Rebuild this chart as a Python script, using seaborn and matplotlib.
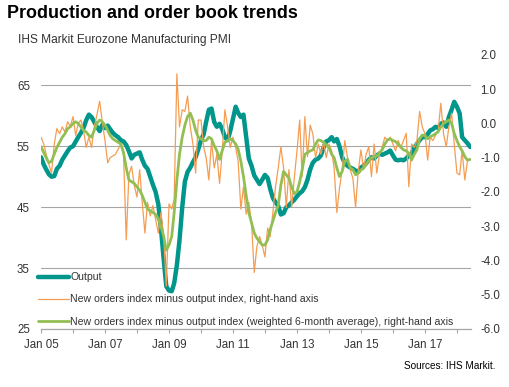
import pandas as pd
import seaborn as sns
import matplotlib.pyplot as plt
import matplotlib.dates as mdates
from matplotlib.ticker import FuncFormatter

# Eurozone manufacturing PMI, monthly Jan 2005 - Jun 2018
output = [
    53.2, 52.0, 51.2, 50.4, 50.0, 50.1, 51.3, 51.8, 52.8, 53.5, 54.2, 54.8,   # 2005
    55.0, 55.8, 56.5, 57.2, 58.0, 59.3, 60.2, 59.8, 59.0, 58.2, 57.5, 58.5,   # 2006
    58.0, 58.4, 57.8, 57.2, 56.8, 56.5, 56.0, 55.8, 55.2, 54.2, 53.0, 53.6,   # 2007
    53.8, 54.0, 52.8, 51.8, 51.3, 50.0, 48.7, 47.5, 45.5, 41.5, 36.5, 32.0,   # 2008
    31.3, 31.2, 32.5, 35.5, 39.6, 45.0, 49.2, 50.8, 51.5, 52.4, 53.2, 54.5,   # 2009
    56.0, 57.0, 59.0, 61.0, 61.2, 59.0, 58.2, 58.7, 57.8, 56.5, 56.0, 57.5,   # 2010
    59.5, 61.5, 60.5, 59.8, 60.2, 56.5, 53.0, 51.8, 50.2, 49.5, 48.8, 49.5,   # 2011
    50.3, 49.8, 48.0, 46.5, 45.8, 45.2, 43.8, 44.0, 45.0, 45.3, 45.8, 46.2,   # 2012
    46.8, 47.3, 47.6, 48.3, 49.5, 51.2, 52.3, 52.8, 53.0, 53.5, 54.8, 55.8,   # 2013
    56.0, 56.5, 55.8, 56.2, 55.0, 53.2, 52.2, 51.8, 51.5, 51.3, 51.0, 50.8,   # 2014
    51.5, 51.8, 52.2, 52.8, 53.2, 53.0, 53.5, 53.8, 53.6, 53.8, 54.0, 54.3,   # 2015
    53.5, 52.8, 52.7, 52.8, 52.7, 53.0, 53.5, 53.8, 54.8, 55.4, 56.0, 56.5,   # 2016
    56.5, 57.0, 57.6, 57.8, 58.2, 58.0, 58.7, 58.9, 58.2, 59.8, 61.0, 62.3,   # 2017
    61.5, 60.4, 56.5, 56.0, 55.5, 54.9,                                       # 2018
]

orders_minus_output = [
    -0.4, -0.6, -0.9, -1.2, -1.45, -0.6, -0.15, -0.3, -0.1, -0.25, 0.05, -0.1,
    0.2, -0.35, 0.0, 0.1, -0.2, -0.7, -0.4, -0.7, -0.1, 0.25, 0.65, 0.05,
    -0.5, -1.15, -1.0, -0.95, -0.9, -0.75, -0.6, -0.9, -3.4, -1.5, -1.25, -1.8,
    -2.15, -1.35, -2.3, -3.2, -2.3, -2.7, -2.4, -2.8, -3.2, -2.6, -3.3, -4.75,
    -2.35, -2.5, -2.2, 1.45, -0.1, 0.4, 0.35, 0.8, -0.1, -0.6, -1.45, 0.1,
    0.1, -0.7, -1.0, -1.65, -0.5, -1.3, -0.9, -1.75, -0.8, 0.4, -0.1, -0.7,
    -0.4, -0.7, -1.1, -2.5, -1.85, -2.65, -2.3, -2.9, -4.35, -3.6, -3.3, -3.55,
    -3.9, -3.05, -3.3, -2.6, -1.85, -1.3, -0.68, -1.3, -2.45, -1.35, -2.45, -1.6,
    -0.8, 0.1, -1.55, 0.2, -0.97, -0.05, -0.3, -1.0, -0.6, -0.9, -0.55, -1.0,
    -0.6, -0.8, -1.3, -2.6, -1.9, -1.35, -0.5, -1.0, -1.35, -1.6, -2.45, -1.4,
    -0.77, -1.35, -0.9, -0.68, -1.55, -0.6, -1.45, -0.9, -0.68, -0.4, -0.5, -0.4,
    -0.6, -0.8, -0.5, -0.7, -0.5, -0.29, -1.85, -0.6, -0.7, -0.5, 0.35, -0.1,
    -0.3, -1.07, -0.4, -0.5, -0.35, -0.2, 0.59, -0.3, -0.68, -0.1, 0.3, -0.6,
    -1.45, -1.5, -0.8, -1.65, -1.1, -1.05,
]

weighted_avg = [
    -0.68, -0.85, -1.0, -1.15, -1.1, -0.9, -0.7, -0.55, -0.4, -0.3, -0.15, -0.1,
    0.0, 0.05, 0.0, -0.1, -0.2, -0.25, -0.35, -0.4, -0.2, 0.0, 0.1, 0.05,
    -0.05, -0.2, -0.35, -0.45, -0.5, -0.55, -0.6, -0.85, -1.3, -1.65, -1.7, -1.75,
    -1.85, -1.95, -2.1, -2.3, -2.5, -2.55, -2.6, -2.65, -2.8, -3.0, -3.3, -3.7,
    -3.55, -3.3, -2.6, -1.65, -0.9, -0.4, -0.05, 0.2, 0.3, 0.1, -0.2, -0.4,
    -0.45, -0.5, -0.5, -0.4, -0.45, -0.65, -0.8, -1.05, -0.8, -0.55, -0.5, -0.45,
    -0.5, -0.6, -0.75, -1.1, -1.55, -2.1, -2.6, -2.9, -3.2, -3.35, -3.45, -3.55,
    -3.55, -3.4, -3.1, -2.85, -2.6, -2.4, -1.8, -1.4, -1.5, -1.6, -1.85, -2.05,
    -2.0, -1.7, -1.36, -0.9, -0.85, -0.8, -0.77, -0.6, -0.48, -0.5, -0.55, -0.63,
    -0.7, -0.9, -1.0, -1.3, -1.55, -1.4, -1.1, -1.05, -1.3, -1.35, -1.5, -1.45,
    -1.36, -1.3, -1.2, -1.07, -1.0, -0.97, -0.95, -0.85, -0.77, -0.6, -0.48, -0.45,
    -0.5, -0.53, -0.6, -0.7, -0.77, -0.8, -0.87, -1.07, -0.9, -0.77, -0.45, -0.34,
    -0.35, -0.45, -0.39, -0.35, -0.3, -0.24, -0.1, 0.0, 0.05, 0.1, 0.0, -0.29,
    -0.5, -0.68, -0.8, -0.97, -1.07, -1.05,
]

left_ticks = [25, 35, 45, 55, 65]
right_ticks = [-6, -5, -4, -3, -2, -1, 0, 1, 2]

labels = [
    "Output",
    "New orders index minus output index, right-hand axis",
    "New orders index minus output index (weighted 6-month average), right-hand axis",
]
teal, orange, green = "#00968b", "#f59d52", "#92be52"
grey_text = "#333333"

df = pd.DataFrame({
    "date": pd.date_range("2005-01-01", periods=len(output), freq="MS"),
    "output": output,
    "diff": orders_minus_output,
    "avg": weighted_avg,
})

sns.set_style("white")
plt.rcParams["font.family"] = ["Liberation Sans", "DejaVu Sans"]
plt.rcParams["axes.unicode_minus"] = False

fig = plt.figure(figsize=(5.09, 3.87), dpi=100)
ax = fig.add_axes([0.0806, 0.150, 0.845, 0.708])
ax2 = ax.twinx()

sns.lineplot(data=df, x="date", y="output", ax=ax, color=teal, linewidth=3.2, label=labels[0], legend=False)
sns.lineplot(data=df, x="date", y="diff", ax=ax2, color=orange, linewidth=0.9, label=labels[1], legend=False)
sns.lineplot(data=df, x="date", y="avg", ax=ax2, color=green, linewidth=2.0, label=labels[2], legend=False)

ax.set_xlim(pd.Timestamp("2005-01-01"), pd.Timestamp("2018-06-12"))
ax.set_ylim(25, 70)
ax2.set_ylim(-6, 2)
ax.set_yticks(left_ticks)
ax2.set_yticks(right_ticks)
ax2.yaxis.set_major_formatter(FuncFormatter(lambda v, p: f"{v:.1f}"))

ax.xaxis.set_major_locator(mdates.YearLocator(1))
ax.xaxis.set_major_formatter(FuncFormatter(
    lambda v, p: mdates.num2date(v).strftime("Jan %y") if mdates.num2date(v).year % 2 == 1 else ""))

ax.grid(axis="y", color="#a6a6a6", linewidth=0.8)
ax.grid(axis="x", visible=False)
ax2.grid(False)
for a in (ax, ax2):
    for s in ("top", "left", "right"):
        a.spines[s].set_visible(False)
    a.spines["bottom"].set_color("#a6a6a6")
    a.set_xlabel("")
    a.set_ylabel("")

ax.tick_params(axis="x", length=3, width=0.8, color="#a6a6a6", pad=4, labelsize=8.3, labelcolor=grey_text, bottom=True)
ax.tick_params(axis="y", length=0, pad=8, labelsize=8.3, labelcolor=grey_text)
ax2.tick_params(axis="y", length=0, pad=6.5, labelsize=8.3, labelcolor=grey_text)

handles = ax.get_lines()[:1] + ax2.get_lines()[:2]
leg = ax2.legend(handles, labels, loc="lower left", bbox_to_anchor=(0.0747, 0.156),
                 bbox_transform=fig.transFigure, frameon=False, fontsize=7.6,
                 handlelength=2.9, handletextpad=0.15, labelspacing=1.15,
                 borderpad=0, borderaxespad=0)
for t in leg.get_texts():
    t.set_color(grey_text)

fig.text(0.014, 0.966, "Production and order book trends", fontsize=12.9,
         fontweight="bold", va="center", ha="left", color="black")
fig.text(0.035, 0.896, "IHS Markit Eurozone Manufacturing PMI", fontsize=8.6,
         va="center", ha="left", color=grey_text)
fig.text(0.973, 0.054, "Sources: IHS Markit.", fontsize=7.2,
         va="center", ha="right", color="black")

fig.savefig("out.png", dpi=100)
